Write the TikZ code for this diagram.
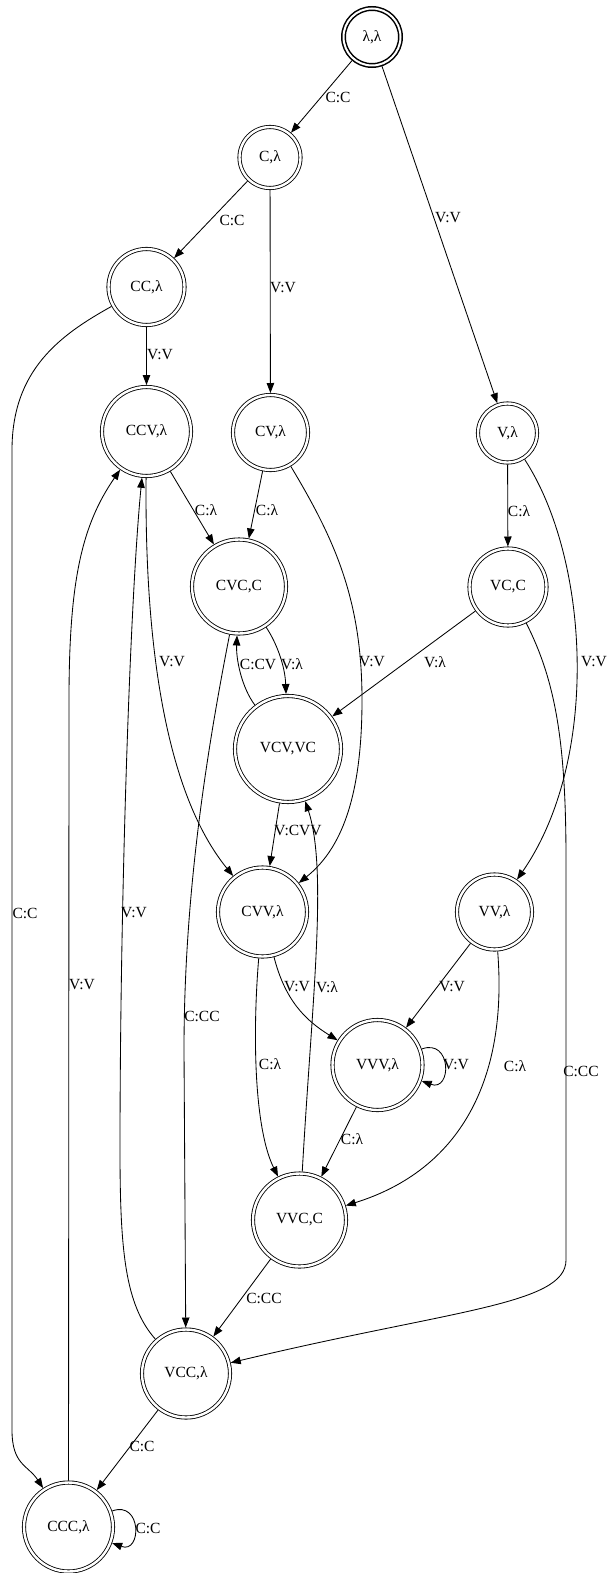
\documentclass[tikz,border=0pt]{standalone}
\usepackage{fontspec}
\setmainfont{Liberation Serif}
\usetikzlibrary{arrows.meta}
\tikzset{stt/.style={circle, draw, double, double distance=2.4pt, line width=0.85pt,
  inner sep=0pt, outer sep=2pt, font=\fontsize{15.5}{18}\selectfont}}
\tikzset{initstt/.style={stt, line width=1.5pt, double distance=2pt}}
\tikzset{lbl/.style={inner sep=1pt, font=\fontsize{15.5}{18}\selectfont}}

\begin{document}
\begin{tikzpicture}[x=1pt,y=-1pt,>={Triangle[length=10pt,width=7.5pt]},line width=0.85pt]
  \useasboundingbox (0,0) rectangle (610,1573);
  % states
  \node[initstt, minimum size=57pt] (LL) at (372,37) {λ,λ};
  \node[stt, minimum size=61pt] (Cl) at (270,157.5) {C,λ};
  \node[stt, minimum size=76pt] (CCl) at (146.5,287) {CC,λ};
  \node[stt, minimum size=89pt] (CCVl) at (146.5,431.5) {CCV,λ};
  \node[stt, minimum size=75pt] (CVl) at (270.5,432.5) {CV,λ};
  \node[stt, minimum size=59pt] (Vl) at (507.5,433) {V,λ};
  \node[stt, minimum size=94pt] (CVCc) at (239,586.5) {CVC,C};
  \node[stt, minimum size=77pt] (VCc) at (508,587) {VC,C};
  \node[stt, minimum size=106pt] (VCVvc) at (288,749) {VCV,VC};
  \node[stt, minimum size=89pt] (CVVl) at (262.5,912) {CVV,λ};
  \node[stt, minimum size=75pt] (VVl) at (494.5,912) {VV,λ};
  \node[stt, minimum size=90pt] (VVVl) at (377.5,1065) {VVV,λ};
  \node[stt, minimum size=93pt] (VVCc) at (299.5,1220) {VVC,C};
  \node[stt, minimum size=88pt] (VCCl) at (186,1373.5) {VCC,λ};
  \node[stt, minimum size=89pt] (CCCl) at (68.5,1527) {CCC,λ};

  % transitions
  \draw[->] (LL) -- (Cl);
  \draw[->] (LL) -- (Vl);
  \draw[->] (Cl) -- (CCl);
  \draw[->] (Cl) -- (CVl);
  \draw[->] (CCl) -- (CCVl);
  \draw[->] (CCl) .. controls (60,335) and (12,370) .. (12,450) -- (12,1430)
    .. controls (12,1465) and (28,1465) .. (CCCl);
  \draw[->] (CCVl) -- (CVCc);
  \draw[->] (CCVl) .. controls (145,600) and (155,780) .. (CVVl);
  \draw[->] (CVl) -- (CVCc);
  \draw[->] (CVl) .. controls (335,540) and (362,600) .. (362,700)
    .. controls (362,800) and (340,850) .. (CVVl);
  \draw[->] (Vl) -- (VCc);
  \draw[->] (Vl) .. controls (590,560) and (600,760) .. (VVl);
  \draw[->] (VCc) -- (VCVvc);
  \draw[->] (VCc) .. controls (555,680) and (566,740) .. (566,860) -- (566,1260)
    .. controls (566,1305) and (450,1310) .. (VCCl);
  \draw[->] (CVCc) .. controls (276,642) and (285,665) .. (VCVvc);
  \draw[->] (VCVvc) .. controls (242,688) and (236,660) .. (CVCc);
  \draw[->] (CVCc) .. controls (205,760) and (184,900) .. (184,1050) -- (VCCl);
  \draw[->] (VCVvc) -- (CVVl);
  \draw[->] (CVVl) .. controls (285,1000) and (305,1020) .. (VVVl);
  \draw[->] (CVVl) .. controls (252,1040) and (255,1130) .. (VVCc);
  \draw[->] (VVl) -- (VVVl);
  \draw[->] (VVl) .. controls (508,1080) and (460,1170) .. (VVCc);
  \draw[->] (VVVl) .. controls (452,1038) and (452,1092) .. (VVVl);
  \draw[->] (VVVl) -- (VVCc);
  \draw[->] (VVCc) .. controls (312,1000) and (328,870) .. (VCVvc);
  \draw[->] (VVCc) -- (VCCl);
  \draw[->] (VCCl) .. controls (125,1305) and (120,1250) .. (120,1150)
    .. controls (120,900) and (130,600) .. (CCVl);
  \draw[->] (VCCl) -- (CCCl);
  \draw[->] (CCCl) .. controls (142,1500) and (142,1554) .. (CCCl);
  \draw[->] (CCCl) -- (69,700) .. controls (69,580) and (82,525) .. (CCVl);

  % labels
  \node[lbl] (a1) at (338,97) {C:C};
  \node[lbl] (a2) at (448,218) {V:V};
  \node[lbl] (a3) at (232,220) {C:C};
  \node[lbl] (a4) at (283,288) {V:V};
  \node[lbl] (a5) at (160,355) {V:V};
  \node[lbl] (a6) at (206,510) {C:λ};
  \node[lbl] (a7) at (267,510) {C:λ};
  \node[lbl] (a8) at (519,511) {C:λ};
  \node[lbl] (a9) at (172,662) {V:V};
  \node[lbl] (a10) at (258,664) {C:CV};
  \node[lbl] (a11) at (292,664) {V:λ};
  \node[lbl] (a12) at (372,662) {V:V};
  \node[lbl] (a13) at (435,662) {V:λ};
  \node[lbl] (a14) at (594,662) {V:V};
  \node[lbl] (a15) at (298,830) {V:CVV};
  \node[lbl] (a16) at (25,913) {C:C};
  \node[lbl] (a17) at (134,913) {V:V};
  \node[lbl] (a18) at (82,985) {V:V};
  \node[lbl] (a19) at (297,987) {V:V};
  \node[lbl] (a20) at (327,987) {V:λ};
  \node[lbl] (a21) at (452,987) {V:V};
  \node[lbl] (a22) at (202,1016) {C:CC};
  \node[lbl] (a23) at (270,1064) {C:λ};
  \node[lbl] (a24) at (456,1065) {V:V};
  \node[lbl] (a25) at (515,1066) {C:λ};
  \node[lbl] (a26) at (581,1071) {C:CC};
  \node[lbl] (a27) at (352,1139) {C:λ};
  \node[lbl] (a28) at (264,1298) {C:CC};
  \node[lbl] (a29) at (142,1446) {C:C};
  \node[lbl] (a30) at (148,1528) {C:C};
\end{tikzpicture}
\end{document}
